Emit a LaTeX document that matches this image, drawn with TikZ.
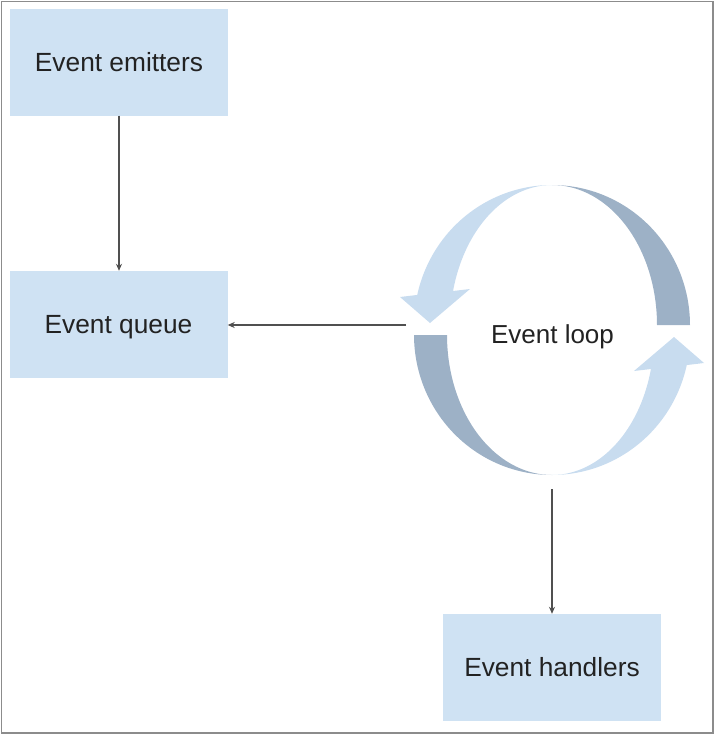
\documentclass[tikz,border=0pt]{standalone}
\usepackage{fontspec}
\setmainfont{Liberation Sans}
\usetikzlibrary{arrows.meta}
\definecolor{boxblue}{HTML}{CFE2F3}
\definecolor{arclight}{HTML}{C8DCEF}
\definecolor{arcdark}{HTML}{9DB1C6}
\definecolor{txtcol}{HTML}{222222}
\definecolor{conncol}{HTML}{505050}
\definecolor{framecol}{HTML}{8C8C8C}
\begin{document}
\begin{tikzpicture}[x=1pt,y=-1pt,
  box/.style={rectangle, fill=boxblue, minimum width=218pt, minimum height=107pt,
    inner sep=0pt, text=txtcol, font=\fontsize{26.3}{30}\selectfont,
    text height=18.8pt, text depth=0pt},
  lbl/.style={inner sep=0pt, text=txtcol, font=\fontsize{26}{30}\selectfont,
    text height=18.6pt, text depth=0pt},
  conn/.style={draw=conncol, line width=1.1pt, -{Stealth[length=7pt,width=6pt]}},
  frameline/.style={draw=framecol, line width=1.3pt},
]
\useasboundingbox (0,0) rectangle (715,734);
\draw[frameline] (1.5,1.5) rectangle (713,733);

% boxes
\node[box] (emitters) at (119,62) {Event emitters};
\node[box] (queue) at (118.5,324.5) {Event queue};
\node[box] (handlers) at (552,667.5) {Event handlers};

% circular arrows (upper half, then rotated copy)
\begin{scope}
  \fill[arcdark] plot[domain=0:-90, samples=50, variable=\t] ({552+138*cos(\t)},{325+140*sin(\t)})
     -- plot[domain=-90:0, samples=50, variable=\t] ({552+105*cos(\t)},{325+140*sin(\t)}) -- cycle;
  \fill[arclight] plot[domain=-90:-167.6, samples=50, variable=\t] ({552+138*cos(\t)},{325+140*sin(\t)})
     -- (400,297) -- (430,323) -- (470,289) -- (453,291)
     -- plot[domain=-166:-90, samples=50, variable=\t] ({552+102*cos(\t)},{325+140*sin(\t)}) -- cycle;
\end{scope}
\begin{scope}[rotate around={180:(552,330)}]
  \fill[arcdark] plot[domain=0:-90, samples=50, variable=\t] ({552+138*cos(\t)},{325+140*sin(\t)})
     -- plot[domain=-90:0, samples=50, variable=\t] ({552+105*cos(\t)},{325+140*sin(\t)}) -- cycle;
  \fill[arclight] plot[domain=-90:-167.6, samples=50, variable=\t] ({552+138*cos(\t)},{325+140*sin(\t)})
     -- (400,297) -- (430,323) -- (470,289) -- (453,291)
     -- plot[domain=-166:-90, samples=50, variable=\t] ({552+102*cos(\t)},{325+140*sin(\t)}) -- cycle;
\end{scope}

\node[lbl] (loop) at (552.5,334) {Event loop};

% connectors
\coordinate (loopW) at (406,325);
\coordinate (loopS) at (552,489);
\draw[conn] (emitters.south) -- (emitters.south |- queue.north);
\draw[conn] (loopW) -- (loopW -| queue.east);
\draw[conn] (loopS) -- (handlers.north);
\end{tikzpicture}
\end{document}
